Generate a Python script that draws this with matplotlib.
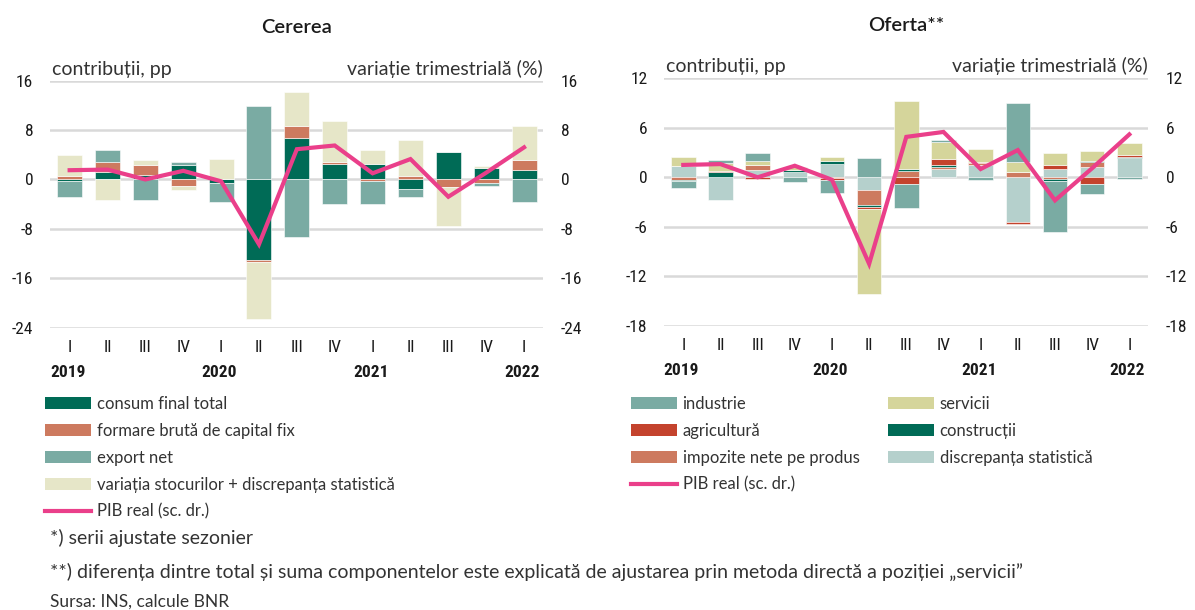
import numpy as np
import matplotlib.pyplot as plt
from matplotlib.patches import Patch
from matplotlib.lines import Line2D

quarters = ['I', 'II', 'III', 'IV', 'I', 'II', 'III', 'IV', 'I', 'II', 'III', 'IV', 'I']
years = ['2019', '2020', '2021', '2022']
year_pos = [0, 4, 8, 12]

# Cererea (contributii, pp)
consum = [-0.3, 1.2, 0.8, 2.4, -0.6, -13.0, 6.7, 2.5, 2.5, -1.6, 4.5, 1.9, 1.6]
formare = [0.6, 1.6, 1.6, -1.0, 0.1, -0.3, 1.9, 0.4, -0.3, 0.5, -1.2, -0.65, 1.6]
export_net = [-2.6, 2.0, -3.3, 0.5, -3.0, 11.9, -9.3, -3.9, -3.6, -1.3, 0.0, -0.35, -3.6]
variatia = [3.4, -3.3, 0.8, -0.7, 3.2, -9.3, 5.5, 6.5, 2.3, 5.9, -6.3, 0.3, 5.5]

# Oferta (contributii, pp)
industrie = [-0.8, 0.4, 1.0, -0.6, -1.6, 2.3, -2.9, 0.2, -0.3, 7.1, -6.2, -1.2, -0.2]
agricultura = [0.0, 0.15, -0.2, 0.0, -0.2, -0.2, -0.8, 0.7, 0.1, -0.25, 0.5, -0.8, 0.2]
impozite = [-0.3, 0.0, 0.6, 0.0, -0.1, -1.8, 0.8, 0.3, 0.2, 0.6, -0.2, 0.5, 0.0]
servicii = [1.05, 0.95, 0.5, 0.45, 0.5, -10.4, 8.2, 2.1, 1.6, 1.3, 1.5, 1.2, 1.5]
constructii = [-0.2, 0.6, 0.0, 0.25, 0.4, -0.2, 0.25, 0.2, 0.0, 0.0, -0.2, 0.2, 0.2]
discrepanta = [1.4, -2.75, 0.9, 0.6, 1.6, -1.6, 0.0, 1.0, 1.5, -5.4, 1.0, 1.3, 2.3]

# PIB real, variatie trimestriala (%)
pib = [1.5, 1.6, 0.0, 1.4, -0.3, -10.5, 4.9, 5.5, 1.0, 3.3, -2.8, 1.1, 5.2]

GREEN = '#006b56'
SALMON = '#cd7a5f'
TEAL = '#7aaba3'
CREAM = '#e6e6c8'
KHAKI = '#d5d59b'
RED = '#c4432d'
PALE = '#b5d0cc'
PINK = '#ea3f8a'
GRID = '#d9d9d9'
TXT = '#1a1a1a'
GREY = '#333333'

plt.rcParams['font.family'] = ['Lato', 'DejaVu Sans']
NARROW = ['Roboto Condensed', 'DejaVu Sans Condensed', 'Lato', 'DejaVu Sans']

fig = plt.figure(figsize=(11.95, 6.1), dpi=100)
x = np.arange(len(quarters))


def stacked(ax, series, colors, order):
    pos = np.zeros(len(x))
    neg = np.zeros(len(x))
    for name in order:
        vals = np.array(series[name])
        bottom = np.where(vals >= 0, pos, neg)
        ax.bar(x, vals, bottom=bottom, width=0.66, color=colors[name],
               edgecolor='white', linewidth=0.4, zorder=3)
        pos += np.where(vals >= 0, vals, 0)
        neg += np.where(vals < 0, vals, 0)


def setup(ax, lim, step, title):
    ax.set_xlim(-0.52, 12.5)
    ax.set_ylim(*lim)
    ticks = np.arange(lim[0], lim[1] + 0.1, step)
    ax.set_yticks(ticks)
    ax.set_yticklabels([f'{t:g}' for t in ticks], family=NARROW, fontsize=12.5, color=TXT)
    for t in ticks:
        ax.axhline(t, color=GRID, lw=1.8, zorder=1)
    for s in ax.spines.values():
        s.set_visible(False)
    ax.tick_params(axis='y', length=0, pad=12)
    ax.set_xticks(x)
    ax.set_xticklabels(quarters, family=NARROW, fontsize=12.5, color=TXT)
    ax.tick_params(axis='x', length=0, pad=9)
    for yr, p in zip(years, year_pos):
        ax.text(p - 0.05, -0.18, yr, transform=ax.get_xaxis_transform(),
                ha='center', va='center', family=NARROW, fontsize=12.5,
                fontweight='semibold', color=TXT)
    ax2 = ax.twinx()
    ax2.set_ylim(*lim)
    ax2.set_yticks(ticks)
    ax2.set_yticklabels([f'{t:g}' for t in ticks], family=NARROW, fontsize=12.5, color=TXT)
    ax2.tick_params(axis='y', length=0, pad=13)
    for s in ax2.spines.values():
        s.set_visible(False)
    ax.set_title(title, fontsize=14.5, fontweight='semibold', color=TXT, pad=34)
    ax.text(0.005, 1.012, 'contribuții, pp', transform=ax.transAxes,
            ha='left', va='bottom', fontsize=14, color=GREY)
    ax.text(1.0, 1.012, 'variație trimestrială (%)', transform=ax.transAxes,
            ha='right', va='bottom', fontsize=14, color=GREY)
    return ax2


# Cererea
axL = fig.add_axes([0.0418, 0.4628, 0.4126, 0.405])
dem = {'consum': consum, 'formare': formare, 'export': export_net, 'variatia': variatia}
dem_col = {'consum': GREEN, 'formare': SALMON, 'export': TEAL, 'variatia': CREAM}
stacked(axL, dem, dem_col, ['consum', 'formare', 'export', 'variatia'])
axL2 = setup(axL, (-24, 16), 8, 'Cererea')
axL2.plot(x, pib, color=PINK, lw=3, zorder=5, solid_joinstyle='miter')

# Oferta
axR = fig.add_axes([0.5556, 0.466, 0.405, 0.4056])
sup = {'industrie': industrie, 'agricultura': agricultura, 'impozite': impozite,
       'servicii': servicii, 'constructii': constructii, 'discrepanta': discrepanta}
sup_col = {'industrie': TEAL, 'agricultura': RED, 'impozite': SALMON,
           'servicii': KHAKI, 'constructii': GREEN, 'discrepanta': PALE}
stacked(axR, sup, sup_col,
        ['discrepanta', 'impozite', 'constructii', 'agricultura', 'servicii', 'industrie'])
axR2 = setup(axR, (-18, 12), 6, 'Oferta**')
axR2.plot(x, pib, color=PINK, lw=3, zorder=5, solid_joinstyle='miter')


# legends
def patch(c):
    return Patch(facecolor=c, edgecolor='none')


pib_line = Line2D([0], [0], color=PINK, lw=3)
leg_kw = dict(frameon=False, fontsize=12, handlelength=2.75, handleheight=0.72,
              handletextpad=0.36, labelspacing=0.66, borderpad=0, borderaxespad=0,
              labelcolor=GREY)
fig.legend([patch(GREEN), patch(SALMON), patch(TEAL), patch(CREAM), pib_line],
           ['consum final total', 'formare brută de capital fix', 'export net',
            'variația stocurilor + discrepanța statistică', 'PIB real (sc. dr.)'],
           loc='upper left', bbox_to_anchor=(0.0377, 0.3516), ncol=1, **leg_kw)
fig.legend([patch(TEAL), patch(RED), patch(SALMON), pib_line,
            patch(KHAKI), patch(GREEN), patch(PALE)],
           ['industrie', 'agricultură', 'impozite nete pe produs', 'PIB real (sc. dr.)',
            'servicii', 'construcții', 'discrepanța statistică'],
           loc='upper left', bbox_to_anchor=(0.5278, 0.3516), ncol=2,
           columnspacing=1.7, **leg_kw)

fig.text(0.042, 0.118, '*) serii ajustate sezonier', fontsize=14, color=GREY, va='center')
fig.text(0.042, 0.062, '**) diferența dintre total și suma componentelor este explicată de '
         'ajustarea prin metoda directă a poziției „servicii”', fontsize=14,
         color=GREY, va='center')
fig.text(0.042, 0.013, 'Sursa: INS, calcule BNR', fontsize=12.5, color=GREY, va='center')

fig.savefig('out.png', dpi=100)
